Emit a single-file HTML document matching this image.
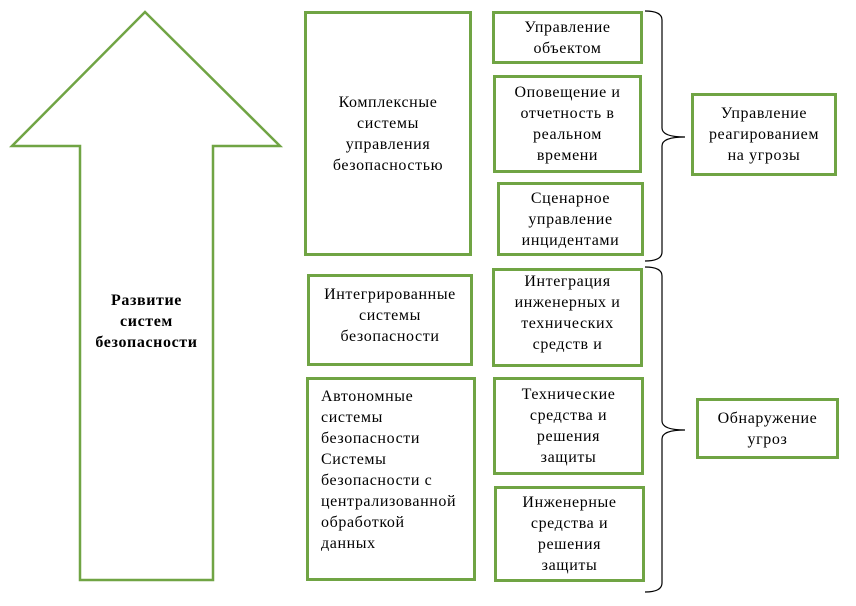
<!DOCTYPE html>
<html><head><meta charset="utf-8"><style>
body{margin:0;background:#fff;}
#c{position:relative;width:856px;height:606px;font-family:"Liberation Serif",serif;font-size:16px;letter-spacing:0.6px;color:#000;}
.b{position:absolute;box-sizing:border-box;border:3px solid #70a444;display:flex;align-items:center;justify-content:center;text-align:center;line-height:21px;white-space:nowrap;}
svg{position:absolute;left:0;top:0;}
</style></head><body><div id="c">
<svg width="856" height="606">
<polygon points="145,12 280,146 213,146 213,580 80,580 80,146 12,146" fill="none" stroke="#70a444" stroke-width="2.5"/>
<path d="M645,11 Q662,11 662,20 L662,128 Q662,137 685,137 Q662,137 662,146 L662,252 Q662,261 645,261" fill="none" stroke="#000" stroke-width="1.2"/>
<path d="M645,267 Q662,267 662,276 L662,421 Q662,430 685,430 Q662,430 662,439 L662,583 Q662,592 645,592" fill="none" stroke="#000" stroke-width="1.2"/>
</svg>
<div style="position:absolute;left:60px;top:290px;width:173px;text-align:center;font-weight:bold;line-height:21px;">Развитие<br>систем<br>безопасности</div>
<div class="b" style="left:304px;top:11px;width:168px;height:245px">Комплексные<br>системы<br>управления<br>безопасностью</div>
<div class="b" style="left:492px;top:11px;width:151px;height:53px">Управление<br>объектом</div>
<div class="b" style="left:493px;top:75px;width:149px;height:98px">Оповещение и<br>отчетность в<br>реальном<br>времени</div>
<div class="b" style="left:497px;top:182px;width:147px;height:74px">Сценарное<br>управление<br>инцидентами</div>
<div class="b" style="left:307px;top:274px;width:166px;height:92px;align-items:flex-start;padding-top:7px">Интегрированные<br>системы<br>безопасности</div>
<div class="b" style="left:492px;top:268px;width:151px;height:99px;align-items:flex-start;padding-top:0">Интеграция<br>инженерных и<br>технических<br>средств и</div>
<div class="b" style="left:306px;top:377px;width:170px;height:204px;justify-content:flex-start;align-items:flex-start;text-align:left;padding:6px 0 0 12px">Автономные<br>системы<br>безопасности<br>Системы<br>безопасности с<br>централизованной<br>обработкой<br>данных</div>
<div class="b" style="left:493px;top:377px;width:151px;height:98px">Технические<br>средства и<br>решения<br>защиты</div>
<div class="b" style="left:494px;top:486px;width:151px;height:96px">Инженерные<br>средства и<br>решения<br>защиты</div>
<div class="b" style="left:691px;top:93px;width:146px;height:83px">Управление<br>реагированием<br>на угрозы</div>
<div class="b" style="left:696px;top:398px;width:143px;height:61px">Обнаружение<br>угроз</div>
</div></body></html>
